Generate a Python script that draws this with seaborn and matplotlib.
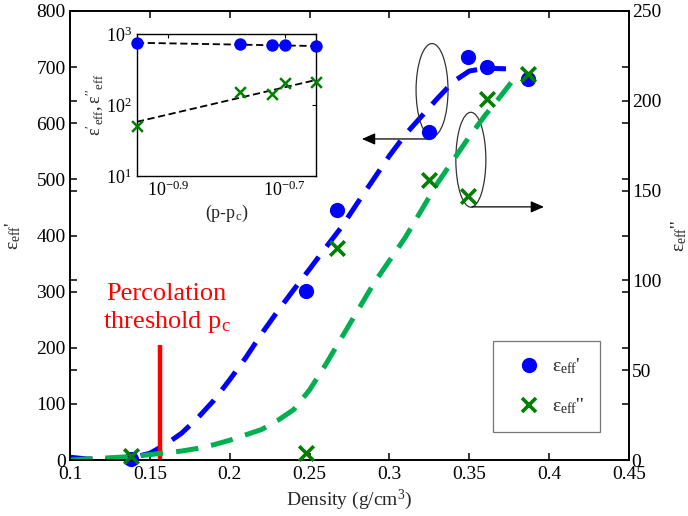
import numpy as np
import matplotlib
matplotlib.use("Agg")
import matplotlib.pyplot as plt
from matplotlib.patches import Ellipse
from matplotlib.lines import Line2D
import seaborn as sns

# ---------------- data ----------------
# measured points (main plot)
dens_pts = [0.138, 0.248, 0.267, 0.325, 0.349, 0.361, 0.387]
eps_real = [2, 302, 446, 585, 718, 701, 679]          # left axis
eps_imag = [2, 4, 118, 156, 147, 201, 215]            # right axis

# model curves
curve_real_x = [0.100, 0.110, 0.120, 0.130, 0.140, 0.150, 0.160, 0.170, 0.180, 0.190,
                0.200, 0.210, 0.220, 0.230, 0.240, 0.250, 0.260, 0.270, 0.280, 0.290,
                0.300, 0.310, 0.320, 0.330, 0.340, 0.350, 0.360, 0.373]
curve_real_y = [5, 2, 1, 2, 5, 12, 28, 48, 75, 106,
                143, 182, 225, 265, 303, 340, 378, 415, 458, 500,
                542, 580, 612, 644, 674, 693, 698, 697]
curve_imag_x = [0.100, 0.110, 0.120, 0.130, 0.140, 0.150, 0.160, 0.170, 0.180, 0.190,
                0.200, 0.210, 0.220, 0.230, 0.240, 0.250, 0.260, 0.270, 0.280, 0.290,
                0.300, 0.310, 0.320, 0.330, 0.340, 0.350, 0.360, 0.370, 0.377]
curve_imag_y = [0, 0.5, 1, 1.5, 2, 3, 4, 5, 6.5, 8.5,
                11, 14, 17, 22, 28, 39, 53, 68, 83, 98,
                111, 124, 139, 154, 167, 180, 192, 203, 211]

# inset (log-log vs p - pc)
inset_x = [0.1114, 0.167, 0.190, 0.1995, 0.2254]
inset_real = [747, 716, 707, 693, 678]
inset_imag = [50.6, 154, 143, 202, 213]
fit_x = [0.1114, 0.2254]
fit_real = [754, 678]
fit_imag = [58, 225]

pc = 0.1564
pc_top = 205

xticks = [0.1, 0.15, 0.2, 0.25, 0.3, 0.35, 0.4, 0.45]
xticklabels = ["0.1", "0.15", "0.2", "0.25", "0.3", "0.35", "0.4", "0.45"]
yticks_left = [0, 100, 200, 300, 400, 500, 600, 700, 800]
yticks_right = [0, 50, 100, 150, 200, 250]

# ---------------- style ----------------
sns.set_style("white")
plt.rcParams['font.family'] = ['Liberation Serif', 'DejaVu Serif']
plt.rcParams['mathtext.fontset'] = 'custom'
plt.rcParams['mathtext.rm'] = 'Liberation Serif'
plt.rcParams['mathtext.it'] = 'Liberation Serif:italic'
plt.rcParams['mathtext.bf'] = 'Liberation Serif:bold'

BLUE = '#0000FF'
GREEN_LINE = '#00B050'
GREEN_MK = '#007F00'
FS = 14

fig = plt.figure(figsize=(6.88, 5.16), dpi=100)
ax = fig.add_axes([0.1017, 0.1085, 0.8125, 0.8702])
ax2 = ax.twinx()

# curves
sns.lineplot(x=curve_real_x, y=curve_real_y, ax=ax, color=BLUE, linewidth=3.6, sort=False)
ax.lines[-1].set_linestyle((0, (4.5, 2.6)))
sns.lineplot(x=curve_imag_x, y=curve_imag_y, ax=ax2, color=GREEN_LINE, linewidth=3.6, sort=False)
ax2.lines[-1].set_linestyle((0, (4.5, 2.6)))

# points
sns.scatterplot(x=dens_pts, y=eps_real, ax=ax, marker='o', s=120, color=BLUE,
                edgecolor=BLUE, linewidth=0, zorder=5, clip_on=False)
sns.scatterplot(x=dens_pts, y=eps_imag, ax=ax2, marker='x', s=110, color=GREEN_MK,
                linewidth=2.6, zorder=5, clip_on=False)

ax.set_xlim(0.1, 0.45)
ax.set_ylim(0, 800)
ax2.set_ylim(0, 250)

ax.set_xticks(xticks)
ax.set_xticklabels(xticklabels)
ax.set_yticks(yticks_left)
ax2.set_yticks(yticks_right)
# mirrored ticks (plotyy style)
ax.set_yticks([v * 800 / 250 for v in yticks_right], minor=True)
ax2.set_yticks([v * 250 / 800 for v in yticks_left], minor=True)

for a in (ax, ax2):
    for s in a.spines.values():
        s.set_color('black')
        s.set_linewidth(1.2)
ax.tick_params(axis='both', which='both', direction='in', length=5, width=1.1,
               labelsize=FS, colors='black', top=True, left=True, bottom=True)
ax.tick_params(axis='y', pad=3)
ax.tick_params(axis='x', pad=4)
ax.tick_params(axis='y', which='minor', length=5)
ax2.tick_params(axis='y', which='both', direction='in', length=5, width=1.1,
                labelsize=FS, colors='black', pad=2, right=True)

ax.set_xlabel("Density (g/cm$^{3}$)", fontsize=FS, labelpad=4)
ax.set_ylabel(r"ε$_{\mathrm{eff}}$'", fontsize=FS, labelpad=10)
ax2.set_ylabel(r"ε$_{\mathrm{eff}}$''", fontsize=FS, labelpad=6)

# percolation threshold
ax.plot([pc, pc], [0, pc_top], color='red', linewidth=3.2, solid_capstyle='butt', zorder=3)
ax.text(0.1605, 222, "Percolation\nthreshold p$_{\\mathrm{c}}$", color='red', fontsize=19,
        ha='center', va='bottom', linespacing=1.25)

# ellipses + arrows
ax.add_patch(Ellipse((0.3267, 659), 0.020, 166, fill=False, edgecolor='#333333', linewidth=0.9, zorder=4))
ax.add_patch(Ellipse((0.3510, 535), 0.0188, 169, fill=False, edgecolor='#333333', linewidth=0.9, zorder=4))
ax.annotate("", xy=(0.2828, 572), xytext=(0.3254, 572),
            arrowprops=dict(arrowstyle='-|>,head_length=0.8,head_width=0.35', color='black',
                            linewidth=0.9, shrinkA=0, shrinkB=0), zorder=4)
ax.annotate("", xy=(0.3968, 451), xytext=(0.3517, 451),
            arrowprops=dict(arrowstyle='-|>,head_length=0.8,head_width=0.35', color='black',
                            linewidth=0.9, shrinkA=0, shrinkB=0), zorder=4)

# legend
h1 = Line2D([], [], linestyle='none', marker='o', markersize=11, color=BLUE, markeredgewidth=0)
h2 = Line2D([], [], linestyle='none', marker='x', markersize=10, color=GREEN_MK, markeredgewidth=2.6)
leg = ax2.legend([h1, h2], [r"ε$_{\mathrm{eff}}$'", r"ε$_{\mathrm{eff}}$''"],
                 loc='lower left', bbox_to_anchor=(0.757, 0.0624), borderaxespad=0,
                 fontsize=FS, frameon=True, fancybox=False, edgecolor='#555555',
                 labelspacing=1.05, handlelength=2.1, handletextpad=0.15, borderpad=0.8)
leg.get_frame().set_linewidth(0.9)

# ---------------- inset ----------------
ins = fig.add_axes([0.199, 0.659, 0.260, 0.275])
sns.lineplot(x=fit_x, y=fit_real, ax=ins, color='black', linewidth=1.3)
ins.lines[-1].set_linestyle((0, (4, 2)))
sns.lineplot(x=fit_x, y=fit_imag, ax=ins, color='black', linewidth=1.3)
ins.lines[-1].set_linestyle((0, (4, 2)))
sns.scatterplot(x=inset_x, y=inset_real, ax=ins, marker='o', s=80, color=BLUE,
                edgecolor=BLUE, linewidth=0, zorder=5, clip_on=False)
sns.scatterplot(x=inset_x, y=inset_imag, ax=ins, marker='x', s=60, color=GREEN_MK,
                linewidth=1.8, zorder=5, clip_on=False)
ins.set_xscale('log')
ins.set_yscale('log')
ins.set_xlim(0.1114, 0.2254)
ins.set_ylim(10, 1000)
ins.set_xticks([10 ** -0.9, 10 ** -0.7])
ins.set_xticklabels([r"$10^{-0.9}$", r"$10^{-0.7}$"])
ins.set_yticks([10, 100, 1000])
ins.set_yticklabels([r"$10^{1}$", r"$10^{2}$", r"$10^{3}$"])
ins.minorticks_off()
for s in ins.spines.values():
    s.set_color('black')
    s.set_linewidth(1.0)
ins.tick_params(axis='both', which='both', direction='in', length=3, width=0.8,
                labelsize=13, colors='black', top=True, right=True)
ins.set_xlabel(r"(p-p$_{\mathrm{c}}$)", fontsize=13, labelpad=2)
ins.set_ylabel(r"$\mathrm{ε'_{eff}, ε''_{eff}}$", fontsize=13, labelpad=0)

fig.savefig("out.png", dpi=100, facecolor='white')
